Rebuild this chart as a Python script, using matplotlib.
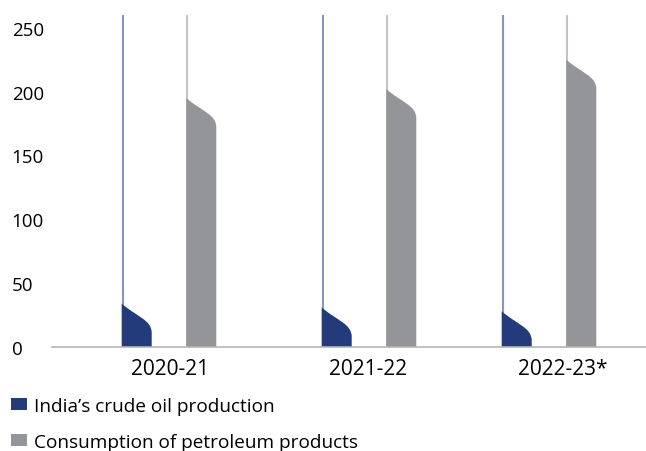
import numpy as np
import matplotlib
matplotlib.use("Agg")
import matplotlib.pyplot as plt
from matplotlib.path import Path
from matplotlib.patches import PathPatch, Patch

categories = ["2020-21", "2021-22", "2022-23*"]
crude_production = [34, 31, 28]
petroleum_consumption = [195, 202, 225]
series_names = ["India\u2019s crude oil production", "Consumption of petroleum products"]
yticks = [0, 50, 100, 150, 200, 250]

navy = "#243b7b"
grey = "#939598"
navy_line = "#8894c2"
grey_line = "#c4c4c6"

plt.rcParams["font.family"] = ["Open Sans", "DejaVu Sans"]

W, H = 646, 452
fig = plt.figure(figsize=(W / 100, H / 100), dpi=100)
ax = fig.add_axes([52 / W, (H - 348) / H, 1 - 52 / W, (348 - 16) / H])
ax.set_xlim(-0.5845, 2.3855)
ax.set_ylim(0, 260)

# layout: group centres and label positions along the category axis
group_x = np.array([0.0, 1.0, 1.9])
label_x = np.array([0.005, 0.996, 1.97])
bw = 0.15
offsets = [-0.161, 0.162]
drop = 23.0


def flag(x0, w, v):
    d = min(drop, v)
    verts = [
        (x0, 0),
        (x0, v),
        (x0 + 0.5 * w, v - 0.45 * d),
        (x0 + w, v - 0.55 * d),
        (x0 + w, v - d),
        (x0 + w, 0),
        (x0, 0),
    ]
    codes = [Path.MOVETO, Path.LINETO,
             Path.CURVE4, Path.CURVE4, Path.CURVE4,
             Path.LINETO, Path.CLOSEPOLY]
    return Path(verts, codes)


for vals, off, col, lcol in [(crude_production, offsets[0], navy, navy_line),
                             (petroleum_consumption, offsets[1], grey, grey_line)]:
    for xi, v in zip(group_x, vals):
        x0 = xi + off - bw / 2
        ax.add_patch(PathPatch(flag(x0, bw, v), facecolor=col, edgecolor="none", zorder=2))
        ax.axvline(x0 + 0.004, ymin=0, ymax=1, color=lcol, lw=1.5, zorder=1)

for s in ["top", "right", "left"]:
    ax.spines[s].set_visible(False)
ax.spines["bottom"].set_color("#b5b5b5")
ax.spines["bottom"].set_linewidth(1.2)

ax.set_xticks(label_x)
ax.set_xticklabels(categories, fontsize=15)
ax.set_yticks(yticks)
ax.set_yticklabels([str(t) for t in yticks], fontsize=13.5)
ax.tick_params(axis="x", length=0, pad=8)
ax.tick_params(axis="y", length=0, pad=29)
for lbl in ax.get_yticklabels():
    lbl.set_horizontalalignment("left")

handles = [Patch(facecolor=navy, edgecolor="none"), Patch(facecolor=grey, edgecolor="none")]
fig.legend(handles, series_names, loc="upper left", bbox_to_anchor=(11 / W, (H - 398) / H),
           frameon=False, fontsize=13.7, handlelength=0.84, handleheight=0.58,
           handletextpad=0.38, labelspacing=0.95, borderaxespad=0, borderpad=0)

fig.savefig("out.png", dpi=100)
